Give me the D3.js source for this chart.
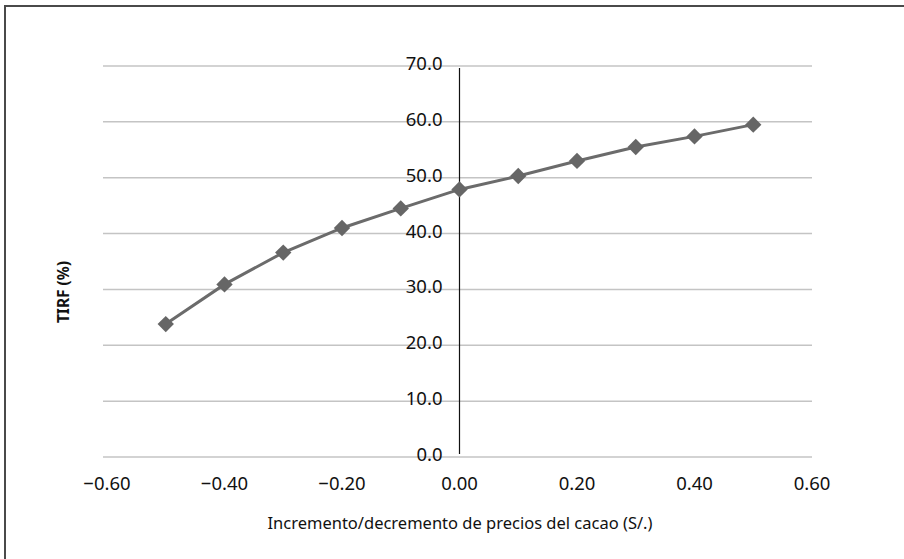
<!DOCTYPE html>
<html><head><meta charset="utf-8">
<script src="https://cdn.jsdelivr.net/npm/d3@7"></script>
<style>html,body{margin:0;padding:0;background:#fff;}svg{display:block;}</style>
</head><body>
<svg id="chart" width="904" height="559"></svg>
<script>
const xValues = [-0.5, -0.4, -0.3, -0.2, -0.1, 0.0, 0.1, 0.2, 0.3, 0.4, 0.5];
const tirf = [23.8, 30.9, 36.6, 41.0, 44.5, 47.9, 50.3, 53.0, 55.5, 57.4, 59.5];
const xTicks = [-0.6, -0.4, -0.2, 0.0, 0.2, 0.4, 0.6];
const yTicks = [0, 10, 20, 30, 40, 50, 60, 70];
const xTitle = "Incremento/decremento de precios del cacao (S/.)";
const yTitle = "TIRF (%)";

const svg = d3.select("#chart");
const font = "'Noto Sans', 'Open Sans', sans-serif";
const x = d3.scaleLinear().domain([-0.6, 0.6]).range([107, 812]);
const y = d3.scaleLinear().domain([0, 70]).range([457, 66]);

// frame
svg.append("path").attr("d", "M5,560 L5,6 L904,6")
  .attr("fill", "none").attr("stroke", "#4a4a4a").attr("stroke-width", 2);

// gridlines
svg.append("g").selectAll("line").data(yTicks).join("line")
  .attr("x1", x(-0.6) - 4).attr("x2", x(0.6))
  .attr("y1", d => y(d)).attr("y2", d => y(d))
  .attr("stroke", "#c4c4c4").attr("stroke-width", 1.5);

// vertical axis line at x=0
svg.append("line").attr("x1", x(0)).attr("x2", x(0))
  .attr("y1", y(70)+2).attr("y2", y(0)-3)
  .attr("stroke", "#111").attr("stroke-width", 1.2);

// y tick labels
svg.append("g").selectAll("text").data(yTicks).join("text")
  .attr("x", x(0) - 17).attr("y", d => y(d) - 1)
  .attr("text-anchor", "end").attr("dominant-baseline", "middle")
  .attr("font-family", font).attr("font-size", 18.5).attr("fill", "#111")
  .text(d => d3.format(".1f")(d));

// x tick labels
svg.append("g").selectAll("text").data(xTicks).join("text")
  .attr("x", d => x(d)).attr("y", 490)
  .attr("text-anchor", "middle")
  .attr("font-family", font).attr("font-size", 18.5).attr("fill", "#111")
  .text(d => d3.format(".2f")(d).replace("-", "\u2013"));

// line
const data = xValues.map((v, i) => ({x: v, y: tirf[i]}));
svg.append("path").datum(data)
  .attr("d", d3.line().x(d => x(d.x)).y(d => y(d.y)))
  .attr("fill", "none").attr("stroke", "#6b6b6b").attr("stroke-width", 3);

// diamond markers
svg.append("g").selectAll("path").data(data).join("path")
  .attr("transform", d => `translate(${x(d.x)},${y(d.y)})`)
  .attr("d", d3.symbol().type(d3.symbolDiamond2).size(170))
  .attr("fill", "#666666");

// axis titles
svg.append("text").attr("x", 460).attr("y", 529)
  .attr("text-anchor", "middle")
  .attr("font-family", font).attr("font-size", 16.5).attr("fill", "#111")
  .text(xTitle);

svg.append("text")
  .attr("transform", "translate(69,292) rotate(-90)")
  .attr("text-anchor", "middle")
  .attr("font-family", font).attr("font-size", 15.5).attr("font-weight", "bold").attr("fill", "#111")
  .text(yTitle);
</script>
</body></html>
